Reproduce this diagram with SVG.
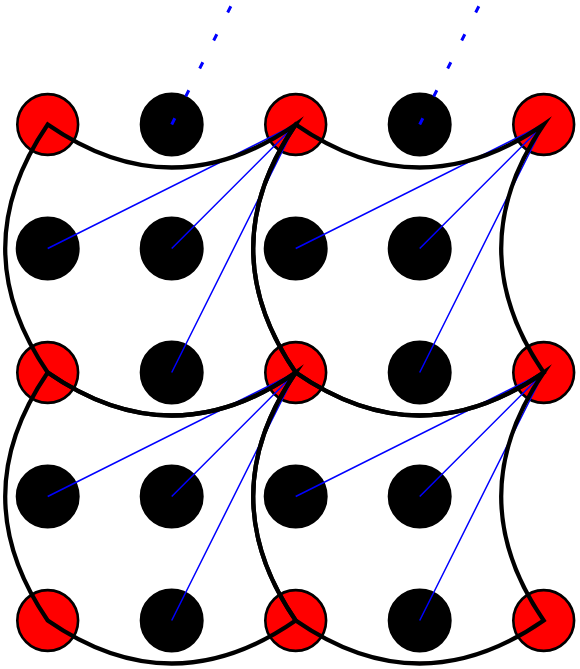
<svg xmlns="http://www.w3.org/2000/svg" width="580" height="669" viewBox="0 0 580 669">
  <style>
    .red { fill: #ff0000; stroke: #000000; stroke-width: 2.6; }
    .blk { fill: #000000; stroke: #000000; stroke-width: 2; }
    .ray { stroke: #0000ff; stroke-width: 1.5; fill: none; }
    .dot { stroke: #0000ff; stroke-width: 3; fill: none; stroke-dasharray: 7 24.3; }
    .cell { stroke: #000000; stroke-width: 4.2; fill: none; stroke-linejoin: miter; stroke-miterlimit: 12; }
  </style>
  <rect x="0" y="0" width="580" height="669" fill="#ffffff"/>
  <g transform="translate(47.7,124.5)">
    <g id="nodes">
      <g id="n00"><circle class="red" cx="0" cy="0" r="30.4"/></g>
      <g id="n10"><circle class="blk" cx="124" cy="0" r="31"/></g>
      <g id="n20"><circle class="red" cx="248" cy="0" r="30.4"/></g>
      <g id="n30"><circle class="blk" cx="372" cy="0" r="31"/></g>
      <g id="n40"><circle class="red" cx="496" cy="0" r="30.4"/></g>
      <g id="n01"><circle class="blk" cx="0" cy="124" r="31"/></g>
      <g id="n11"><circle class="blk" cx="124" cy="124" r="31"/></g>
      <g id="n21"><circle class="blk" cx="248" cy="124" r="31"/></g>
      <g id="n31"><circle class="blk" cx="372" cy="124" r="31"/></g>
      <g id="n02"><circle class="red" cx="0" cy="248" r="30.4"/></g>
      <g id="n12"><circle class="blk" cx="124" cy="248" r="31"/></g>
      <g id="n22"><circle class="red" cx="248" cy="248" r="30.4"/></g>
      <g id="n32"><circle class="blk" cx="372" cy="248" r="31"/></g>
      <g id="n42"><circle class="red" cx="496" cy="248" r="30.4"/></g>
      <g id="n03"><circle class="blk" cx="0" cy="372" r="31"/></g>
      <g id="n13"><circle class="blk" cx="124" cy="372" r="31"/></g>
      <g id="n23"><circle class="blk" cx="248" cy="372" r="31"/></g>
      <g id="n33"><circle class="blk" cx="372" cy="372" r="31"/></g>
      <g id="n04"><circle class="red" cx="0" cy="496" r="30.4"/></g>
      <g id="n14"><circle class="blk" cx="124" cy="496" r="31"/></g>
      <g id="n24"><circle class="red" cx="248" cy="496" r="30.4"/></g>
      <g id="n34"><circle class="blk" cx="372" cy="496" r="31"/></g>
      <g id="n44"><circle class="red" cx="496" cy="496" r="30.4"/></g>
    </g>
    <g id="connectors">
      <g id="rays">
        <path class="ray" d="M248,0 L0,124 M248,0 L124,124 M248,0 L124,248"/>
        <path class="ray" d="M496,0 L248,124 M496,0 L372,124 M496,0 L372,248"/>
        <path class="ray" d="M248,248 L0,372 M248,248 L124,372 M248,248 L124,496"/>
        <path class="ray" d="M496,248 L248,372 M496,248 L372,372 M496,248 L372,496"/>
      </g>
      <g id="dotted">
        <path class="dot" d="M124,0 L192,-136"/>
        <path class="dot" d="M372,0 L440,-136"/>
      </g>
      <g id="cells">
        <path class="cell" d="M0,0 Q124,86 248,0 Q163,124 248,248 Q124,334 0,248 Q-85,124 0,0 Z"/>
        <path class="cell" d="M248,0 Q372,86 496,0 Q411,124 496,248 Q372,334 248,248 Q163,124 248,0 Z"/>
        <path class="cell" d="M0,248 Q124,334 248,248 Q163,372 248,496 Q124,582 0,496 Q-85,372 0,248 Z"/>
        <path class="cell" d="M248,248 Q372,334 496,248 Q411,372 496,496 Q372,582 248,496 Q163,372 248,248 Z"/>
      </g>
    </g>
  </g>
</svg>
